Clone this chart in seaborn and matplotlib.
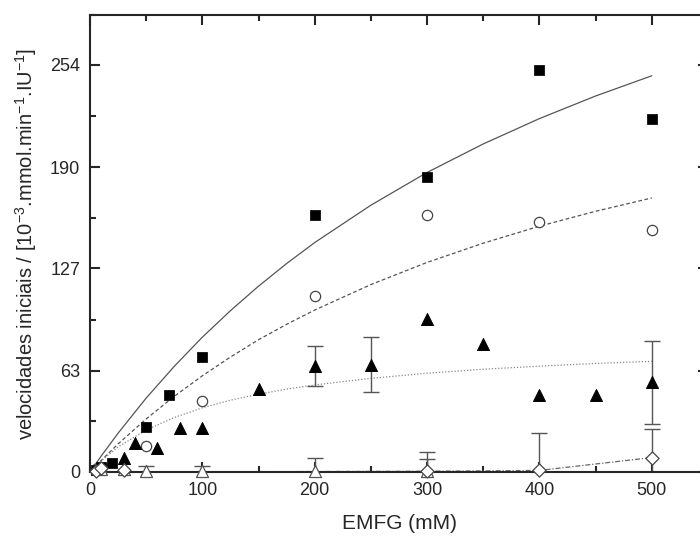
import numpy as np
import pandas as pd
import seaborn as sns
import matplotlib.pyplot as plt
from matplotlib.ticker import MultipleLocator, FixedLocator

# =============================================================================
# data (EMFG in mM, initial rates)
sq_x = [5, 10, 20, 50, 70, 100, 200, 300, 400, 500]
sq_y = [1, 3, 5.5, 28, 48, 72, 160, 184, 251, 220]

circ_x = [10, 50, 100, 200, 300, 400, 500]
circ_y = [2, 16, 44, 110, 160, 156, 151]

tri_x = [30, 40, 60, 80, 100, 150, 200, 250, 300, 350, 400, 450, 500]
tri_y = [9, 18, 15, 27.5, 27.5, 52, 66, 67, 95.5, 80, 48, 48, 56]
tri_err = [0, 0, 0, 0, 0, 0, 12.5, 17, 0, 0, 0, 0, 26]

otri_x = [10, 30, 50, 100, 200, 300]
otri_y = [2, 2, 0.5, 0.5, 0.5, 0.5]
otri_err = [3, 0, 3, 3, 8, 7.5]

dia_x = [5, 10, 30, 300, 400, 500]
dia_y = [0.5, 2.5, 1.5, 0.5, 1.0, 8.7]
dia_err = [0, 0, 0, 12, 23.5, 18]

# fitted curves
fit_x = [5, 10, 25, 50, 75, 100, 125, 150, 175, 200, 250, 300, 350, 400, 450, 500]
fit_sq = [5.0, 10.0, 24.2, 46.1, 65.9, 84.1, 100.6, 115.9, 130.0, 143.1, 166.4, 186.8, 204.6, 220.4, 234.5, 247.1]
fit_circ = [3.7, 7.2, 17.5, 33.1, 47.2, 60.0, 71.7, 82.5, 92.1, 101.0, 116.9, 130.7, 142.7, 153.3, 162.6, 170.9]
fit_tri = [3.6, 7.0, 15.6, 26.2, 34.0, 40.0, 44.8, 48.5, 51.7, 54.3, 58.4, 61.6, 64.1, 66.0, 67.7, 69.0]
fit_dia_x = [5, 100, 200, 300, 350, 400, 425, 450, 475, 500]
fit_dia = [0.0, 0.1, 0.3, 0.5, 0.7, 1.0, 3.0, 5.0, 7.0, 9.0]

yticks = [0, 63, 127, 190, 254]

# =============================================================================
sns.set_style('ticks')
plt.rcParams['font.family'] = ['Liberation Sans', 'DejaVu Sans']
plt.rcParams['mathtext.fontset'] = 'custom'
plt.rcParams['mathtext.rm'] = 'Liberation Sans'
plt.rcParams['mathtext.it'] = 'Liberation Sans'
plt.rcParams['mathtext.default'] = 'regular'

fig = plt.figure(figsize=(7, 5.36), dpi=100)
ax = fig.add_axes([90/700, 64/536, 618/700, 457/536])

# fits
sns.lineplot(x=fit_x, y=fit_sq, ax=ax, color='#555555', lw=0.9, linestyle='-')
sns.lineplot(x=fit_x, y=fit_circ, ax=ax, color='#555555', lw=0.9, linestyle=(0, (3, 2)))
sns.lineplot(x=fit_x, y=fit_tri, ax=ax, color='#888888', lw=0.9, linestyle=(0, (1, 1.5)))
sns.lineplot(x=fit_dia_x, y=fit_dia, ax=ax, color='#666666', lw=0.9, linestyle=(0, (4, 1.5, 1, 1.5)))

# error bars (clipped at the x axis like the original)
eb = dict(fmt='none', ecolor='#555555', elinewidth=1, capsize=6, capthick=1, zorder=2)
for xs, ys, es in [(tri_x, tri_y, tri_err), (otri_x, otri_y, otri_err), (dia_x, dia_y, dia_err)]:
    sel = [i for i, e in enumerate(es) if e > 0]
    ax.errorbar([xs[i] for i in sel], [ys[i] for i in sel], yerr=[es[i] for i in sel], **eb)

# markers
sns.scatterplot(x=sq_x, y=sq_y, ax=ax, marker='s', s=45, color='black', edgecolor='black', zorder=4, clip_on=False)
sns.scatterplot(x=circ_x, y=circ_y, ax=ax, marker='o', s=55, facecolor='white', edgecolor='#444444', linewidth=0.9, zorder=4, clip_on=False)
sns.scatterplot(x=tri_x, y=tri_y, ax=ax, marker='^', s=75, color='black', edgecolor='black', zorder=4, clip_on=False)
sns.scatterplot(x=otri_x, y=otri_y, ax=ax, marker='^', s=75, facecolor='white', edgecolor='#555555', linewidth=0.9, zorder=4, clip_on=False)
sns.scatterplot(x=dia_x, y=dia_y, ax=ax, marker='D', s=45, facecolor='white', edgecolor='#444444', linewidth=0.9, zorder=4, clip_on=False)

# axes
ax.set_xlim(0, 550)
ax.set_ylim(0, 285)
ax.xaxis.set_major_locator(FixedLocator([0, 100, 200, 300, 400, 500]))
ax.xaxis.set_minor_locator(MultipleLocator(50))
ax.yaxis.set_major_locator(FixedLocator(yticks))
ax.yaxis.set_minor_locator(FixedLocator([31.5, 95, 158.5, 222, 285]))
ax.tick_params(which='both', direction='in', top=True, right=True, width=1.5, labelsize=13, pad=7)
ax.tick_params(which='major', length=7)
ax.tick_params(which='minor', length=4.5)
for sp in ax.spines.values():
    sp.set_linewidth(1.5)

ax.set_xlabel('EMFG (mM)', fontsize=15, labelpad=11)
ax.set_ylabel('velocidades iniciais / [10$^{-3}$.mmol.min$^{-1}$.IU$^{-1}$]', fontsize=14.5, labelpad=8)

plt.savefig('out.png', dpi=100)
